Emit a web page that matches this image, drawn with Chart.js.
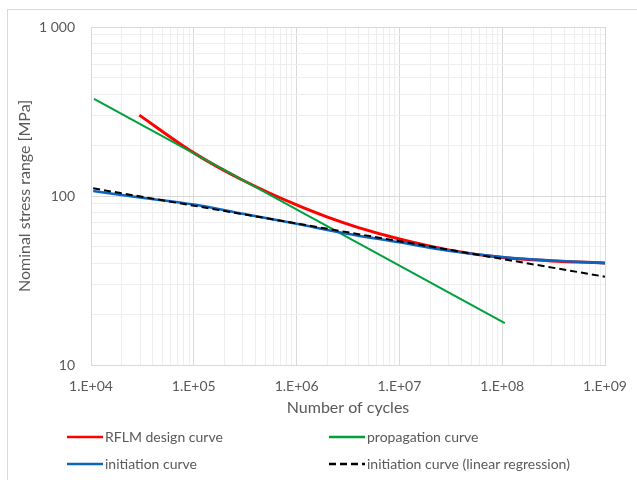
<!DOCTYPE html>
<html>
<head>
<meta charset="utf-8">
<script src="https://cdn.jsdelivr.net/npm/chart.js@4.4.1/dist/chart.umd.min.js"></script>
<style>
  body { margin: 0; background: #fff; font-family: Lato, "Open Sans", sans-serif; }
  #wrap { position: relative; width: 637px; height: 480px; overflow: hidden; }
  #frame { position: absolute; left: 7px; top: 9px; width: 700px; height: 600px; border: 1px solid #d9d9d9; }
  canvas { position: absolute; left: 0; top: 0; }
  .leg { position: absolute; font-size: 14px; color: #595959; line-height: 18px; white-space: nowrap; }
  .leg svg { position: absolute; left: -38px; top: 5px; }
</style>
</head>
<body>
<div id="wrap">
  <div id="frame"></div>
  <canvas id="chart" width="637" height="480"></canvas>
  <div id="legend"></div>
</div>
<script>
// series
const rflmN = [2.95e4, 1e5, 3e5, 1e6, 2e6, 4e6, 1e7, 3e7, 1e8, 3e8, 1e9];
const rflmS = [301, 180, 124, 88.5, 75, 65, 55.7, 48, 43.2, 41.3, 40.2];

const propN = [1.07e4, 1.06e8];
const propS = [375, 17.7];

const initN = [1.05e4, 3e4, 1e5, 3e5, 1e6, 3e6, 1e7, 3e7, 1e8, 3e8, 1e9];
const initS = [107, 98, 89, 78.5, 68.5, 60, 53.2, 47.5, 43.6, 41.6, 40.0];

const regN = [1.05e4, 1e9];
const regS = [111, 33.3];

const seriesNames = ['RFLM design curve', 'propagation curve', 'initiation curve', 'initiation curve (linear regression)'];

// axis labels
const xDecades = [1e4, 1e5, 1e6, 1e7, 1e8, 1e9];
const xTickLabels = ['1.E+04', '1.E+05', '1.E+06', '1.E+07', '1.E+08', '1.E+09'];
const yDecades = [10, 100, 1000];
const yTickLabels = ['10', '100', '1 000'];
const multipliers = [1, 2, 3, 4, 5, 6, 7, 8, 9];

function gridValues(decades) {
  const vals = [];
  decades.forEach((d, i) => {
    if (i === decades.length - 1) { vals.push(d); return; }
    multipliers.forEach(m => vals.push(d * m));
  });
  return vals;
}

function isPow10(v) {
  const l = Math.log10(v);
  return Math.abs(l - Math.round(l)) < 1e-6;
}

function labelFor(v, decades, labels) {
  const i = decades.findIndex(d => Math.abs(d - v) / d < 1e-6);
  return i === -1 ? '' : labels[i];
}

const pts = (xs, ys) => xs.map((x, i) => ({ x, y: ys[i] }));

const gridColor = ctx => (ctx.tick && isPow10(ctx.tick.value)) ? '#d9d9d9' : '#eeeeee';
const textColor = '#595959';

const datasets = [
  {
    label: seriesNames[0],
    data: pts(rflmN, rflmS),
    borderColor: '#ff0000',
    borderWidth: 3,
    cubicInterpolationMode: 'monotone',
    order: 4
  },
  {
    label: seriesNames[1],
    data: pts(propN, propS),
    borderColor: '#00a03c',
    borderWidth: 2,
    order: 3
  },
  {
    label: seriesNames[2],
    data: pts(initN, initS),
    borderColor: '#0a64c0',
    borderWidth: 2.5,
    cubicInterpolationMode: 'monotone',
    order: 2
  },
  {
    label: seriesNames[3],
    data: pts(regN, regS),
    borderColor: '#000000',
    borderWidth: 2,
    borderDash: [7, 4],
    order: 1
  }
];
datasets.forEach(d => { d.showLine = true; d.pointRadius = 0; d.fill = false; });

new Chart(document.getElementById('chart').getContext('2d'), {
  type: 'scatter',
  data: { datasets },
  options: {
    responsive: false,
    animation: false,
    layout: { padding: { left: 11, top: 27, right: 32, bottom: 59 } },
    plugins: { legend: { display: false }, tooltip: { enabled: false } },
    scales: {
      x: {
        type: 'logarithmic',
        min: 1e4,
        max: 1e9,
        afterBuildTicks: s => { s.ticks = gridValues(xDecades).map(v => ({ value: v })); },
        afterFit: s => { s.height = 56; s.paddingLeft = 0; s.paddingRight = 0; },
        ticks: {
          autoSkip: false,
          maxRotation: 0,
          padding: 13,
          color: textColor,
          font: { family: 'Lato', size: 14 },
          callback: v => labelFor(v, xDecades, xTickLabels)
        },
        grid: { color: gridColor, drawTicks: false },
        border: { color: '#d9d9d9' },
        title: {
          display: true,
          text: 'Number of cycles',
          color: textColor,
          font: { family: 'Lato', size: 16 },
          padding: { top: 4, bottom: 4 }
        }
      },
      y: {
        type: 'logarithmic',
        min: 10,
        max: 1000,
        afterBuildTicks: s => { s.ticks = gridValues(yDecades).map(v => ({ value: v })); },
        afterFit: s => { s.width = 80; s.paddingTop = 0; s.paddingBottom = 0; },
        ticks: {
          autoSkip: false,
          padding: 16,
          color: textColor,
          font: { family: 'Lato', size: 14 },
          callback: v => labelFor(v, yDecades, yTickLabels)
        },
        grid: { color: gridColor, drawTicks: false },
        border: { color: '#d9d9d9' },
        title: {
          display: true,
          text: 'Nominal stress range [MPa]',
          color: textColor,
          font: { family: 'Lato', size: 16 },
          padding: { top: 4, bottom: 4 }
        }
      }
    }
  }
});

// legend, two columns like the original
const legPos = [[105, 428], [367, 428], [105, 455], [367, 455]];
const legend = document.getElementById('legend');
datasets.forEach((d, i) => {
  const el = document.createElement('div');
  el.className = 'leg';
  el.style.left = legPos[i][0] + 'px';
  el.style.top = legPos[i][1] + 'px';
  const dash = d.borderDash ? ` stroke-dasharray="7,4"` : '';
  el.innerHTML = `<svg width="36" height="8"><line x1="0" y1="4" x2="36" y2="4" stroke="${d.borderColor}" stroke-width="2.5"${dash}/></svg>${d.label}`;
  legend.appendChild(el);
});
</script>
</body>
</html>
